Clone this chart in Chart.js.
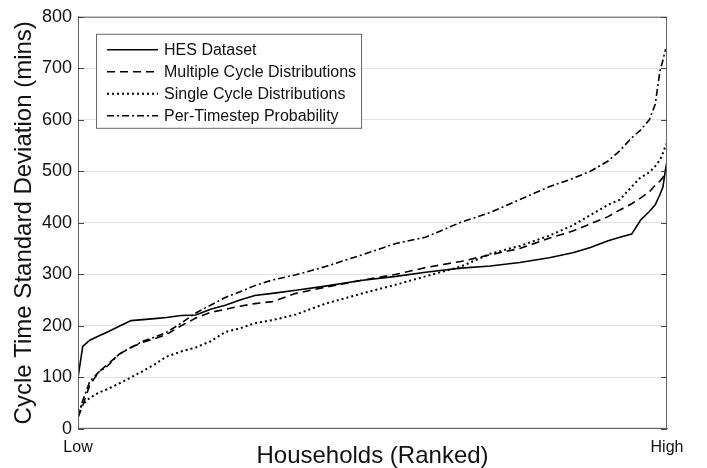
<!DOCTYPE html>
<html>
<head>
<meta charset="utf-8">
<script src="https://cdn.jsdelivr.net/npm/chart.js@4.4.1/dist/chart.umd.min.js"></script>
<style>
  html, body { margin: 0; padding: 0; background: #fff; }
  #wrap { width: 707px; height: 468px; }
</style>
</head>
<body>
<div id="wrap"><canvas id="cycleChart"></canvas></div>
<script>
// households ranked low -> high (percent of ranking)
const households = [0, 0.8, 2, 3.5, 5, 7, 9, 11, 13, 15, 17.5, 20, 22.5, 25, 27.5, 30, 33, 37, 42, 48,
  54, 59, 65, 70, 75, 80, 84, 87, 90, 92, 94, 95.5, 97, 98, 98.8, 99.3, 99.7, 100];

const hesValues = [100, 160, 172, 180, 188, 199, 210, 212, 214, 216, 220, 221, 232, 240, 250, 259, 263, 269, 277, 288,
  296, 304, 312, 316, 323, 332, 342, 352, 365, 372, 378, 405, 422, 435, 455, 469, 500, 520];
const multipleValues = [22, 45, 85, 110, 125, 145, 158, 168, 175, 183, 200, 215, 226, 232, 238, 243, 247, 263, 275, 288,
  300, 313, 325, 338, 350, 370, 384, 398, 412, 425, 437, 448, 460, 473, 481, 488, 500, 510];
const singleValues = [35, 48, 60, 70, 77, 88, 100, 112, 125, 140, 150, 158, 170, 188, 195, 205, 211, 222, 243, 262,
  280, 296, 315, 340, 355, 375, 395, 415, 435, 445, 470, 488, 498, 510, 522, 535, 548, 555];
const timestepValues = [22, 55, 92, 110, 122, 145, 158, 170, 178, 187, 205, 225, 240, 255, 266, 278, 289, 299, 315, 337,
  360, 372, 401, 420, 445, 470, 486, 500, 520, 540, 565, 580, 600, 630, 695, 715, 735, 738];

const seriesNames = ['HES Dataset', 'Multiple Cycle Distributions', 'Single Cycle Distributions', 'Per-Timestep Probability'];
const yTicks = [0, 100, 200, 300, 400, 500, 600, 700, 800];
const xTickLabels = ['Low', 'High'];

Chart.defaults.font.family = '"Liberation Sans", Arial, sans-serif';
Chart.defaults.color = '#111';

function toPoints(values) {
  return values.map((v, i) => ({ x: households[i], y: v }));
}

const dashes = [[], [8, 5], [2, 3], [7, 3, 2, 3]];
const allValues = [hesValues, multipleValues, singleValues, timestepValues];

// frame with inward ticks, like the original figure
const framePlugin = {
  id: 'frame',
  afterDraw(chart) {
    const { ctx, chartArea: a, scales } = chart;
    ctx.save();
    ctx.strokeStyle = '#666';
    ctx.lineWidth = 1;
    ctx.strokeRect(a.left + 0.5, a.top + 0.5, a.right - a.left - 1, a.bottom - a.top - 1);
    ctx.strokeStyle = '#444';
    yTicks.forEach(v => {
      const y = Math.round(scales.y.getPixelForValue(v)) + 0.5;
      ctx.beginPath();
      ctx.moveTo(a.left, y); ctx.lineTo(a.left + 6, y);
      ctx.moveTo(a.right - 6, y); ctx.lineTo(a.right, y);
      ctx.stroke();
    });
    ctx.restore();
  }
};

// legend box inside the plot area
const legendBoxPlugin = {
  id: 'legendBox',
  afterDraw(chart) {
    const { ctx, chartArea: a } = chart;
    const x = a.left + 18, y = a.top + 17, w = 265, h = 94;
    ctx.save();
    ctx.fillStyle = '#fff';
    ctx.fillRect(x, y, w, h);
    ctx.strokeStyle = '#666';
    ctx.lineWidth = 1;
    ctx.strokeRect(x + 0.5, y + 0.5, w, h);
    ctx.font = '16px "Liberation Sans", Arial, sans-serif';
    ctx.textBaseline = 'middle';
    chart.data.datasets.forEach((ds, i) => {
      const ly = y + 16 + i * 22;
      ctx.strokeStyle = '#000';
      ctx.lineWidth = ds.borderWidth;
      ctx.setLineDash(ds.borderDash);
      ctx.beginPath();
      ctx.moveTo(x + 11, ly); ctx.lineTo(x + 62, ly);
      ctx.stroke();
      ctx.setLineDash([]);
      ctx.fillStyle = '#111';
      ctx.fillText(ds.label, x + 68, ly + 1);
    });
    ctx.restore();
  }
};

new Chart(document.getElementById('cycleChart'), {
  type: 'line',
  data: {
    datasets: seriesNames.map((name, i) => ({
      label: name,
      data: toPoints(allValues[i]),
      borderColor: '#000',
      borderWidth: i === 2 ? 2 : 1.6,
      borderDash: dashes[i],
      pointRadius: 0,
      tension: 0,
      fill: false
    }))
  },
  options: {
    responsive: true,
    maintainAspectRatio: false,
    animation: false,
    layout: { padding: { top: 6, right: 40, left: 12, bottom: 0 } },
    plugins: {
      legend: { display: false },
      tooltip: { enabled: false }
    },
    scales: {
      x: {
        type: 'linear',
        min: 0,
        max: 100,
        afterBuildTicks: scale => { scale.ticks = [{ value: 0 }, { value: 100 }]; },
        ticks: {
          callback: v => (v === 0 ? xTickLabels[0] : xTickLabels[1]),
          font: { size: 16 },
          maxRotation: 0,
          autoSkip: false,
          padding: 9
        },
        grid: { display: false, drawTicks: false },
        border: { color: '#666' },
        title: {
          display: true,
          text: 'Households (Ranked)',
          font: { size: 24, lineHeight: 1 },
          padding: { top: -22, bottom: 0 }
        }
      },
      y: {
        min: 0,
        max: 800,
        afterBuildTicks: scale => { scale.ticks = yTicks.map(v => ({ value: v })); },
        ticks: { font: { size: 18 }, padding: 6 },
        grid: { color: '#e2e2e2', drawTicks: false },
        border: { color: '#666' },
        title: {
          display: true,
          text: 'Cycle Time Standard Deviation (mins)',
          font: { size: 24, lineHeight: 1 },
          padding: { top: 0, bottom: 0 }
        }
      }
    }
  },
  plugins: [framePlugin, legendBoxPlugin]
});
</script>
</body>
</html>
